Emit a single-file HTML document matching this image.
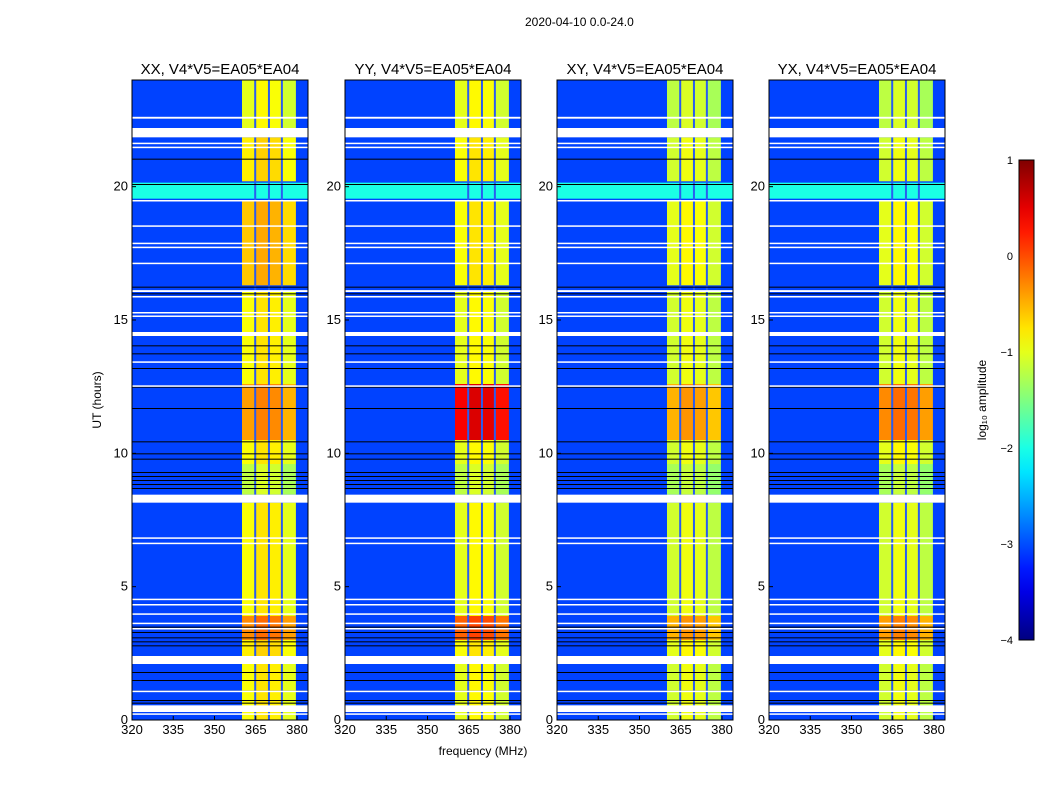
<!DOCTYPE html>
<html><head><meta charset="utf-8">
<style>
body{margin:0;background:#fff;font-family:"Liberation Sans",sans-serif;}
#wrap{position:relative;width:1050px;height:800px;overflow:hidden;}
.t{position:absolute;font-size:12px;color:#000;white-space:nowrap;}
</style></head>
<body>
<div id="wrap">
<div class="t" style="left:525px;top:15px;font-size:12px">2020-04-10 0.0-24.0</div>
<svg id="svg" width="1050" height="800" style="position:absolute;left:0;top:0"></svg>
</div>
<script>
const panelTitles=["XX, V4*V5=EA05*EA04","YY, V4*V5=EA05*EA04","XY, V4*V5=EA05*EA04","YX, V4*V5=EA05*EA04"];
const freqTicks=[320,335,350,365,380];
const timeTicks=[0,5,10,15,20];
const cbTicks=[1,0,-1,-2,-3,-4];
const cbLabels=["1","0","\u22121","\u22122","\u22123","\u22124"];
const subbandEdges=[360,364.8,369.8,374.5,379.6];
const colOffsets=[0,0.15,0.1,-0.1];
const bgLevel=-3.05;
const rfiRow=[19.55,20.15,-2.0];
const flaggedRows=[[21.85,22.2],[8.15,8.45],[2.1,2.4],[0.3,0.55],[14.4,14.55],[22.55,22.62],[21.6,21.65],[21.45,21.5],[19.45,19.5],[18.5,18.55],[17.85,17.9],[17.7,17.75],[17.1,17.15],[16.05,16.12],[15.85,15.9],[15.25,15.3],[15.12,15.17],[13.4,13.45],[12.5,12.55],[6.8,6.85],[6.6,6.65],[4.5,4.55],[4.3,4.35],[3.95,4.0],[3.6,3.65],[3.4,3.45],[1.05,1.1],[0.2,0.25]];
const blackRows=[21.05,20.1,16.25,16.0,14.05,13.75,13.2,12.5,11.7,10.45,10.0,9.8,9.3,9.15,9.0,8.85,8.7,3.5,3.3,3.1,2.95,2.8,1.8,1.5,1.1,0.75,0.65];
const segStarts=[0,2.4,3.0,3.9,8.45,9.6,10.5,12.6,14.55,16.3,20.2,22.2];
const segEnds=[2.1,3.0,3.9,8.15,9.6,10.5,12.6,14.4,16.1,19.5,21.85,24];
const bandXX=[-0.9,-0.8,-0.3,-0.9,-1.2,-0.9,-0.4,-0.9,-0.9,-0.6,-0.8,-1.0];
const bandYY=[-1.0,-0.9,-0.1,-1.0,-1.2,-1.0,0.4,-1.0,-1.0,-0.9,-0.9,-1.0];
const bandXY=[-1.1,-1.0,-0.5,-1.1,-1.3,-1.1,-0.5,-1.1,-1.1,-1.0,-1.1,-1.2];
const bandYX=[-1.1,-1.0,-0.4,-1.1,-1.3,-1.0,-0.3,-1.1,-1.1,-1.0,-1.1,-1.2];
const bands=[bandXX,bandYY,bandXY,bandYX];

const NS="http://www.w3.org/2000/svg";
const svg=document.getElementById('svg');
const panelLeft=[132,345,557,769], PW=176, PT=80, PB=720;
const fx=(f,i)=>panelLeft[i]+(f-320)*2.75;
const ty=t=>PB-(t/24)*(PB-PT);
function jet(v){const x=Math.max(0,Math.min(1,(v+4)/5));const c=a=>Math.round(255*Math.max(0,Math.min(1,1.5-Math.abs(4*x-a))));return `rgb(${c(3)},${c(2)},${c(1)})`;}
function el(tag,attrs){const e=document.createElementNS(NS,tag);for(const k in attrs)e.setAttribute(k,attrs[k]);svg.appendChild(e);return e;}
function txt(x,y,s,anchor,size){const e=el('text',{x:x,y:y,'text-anchor':anchor||'middle','font-size':size||13,'font-family':'Liberation Sans, sans-serif'});e.textContent=s;return e;}
for(let i=0;i<4;i++){
  const L=panelLeft[i];
  let r=el('rect',{x:L,y:PT,width:PW,height:PB-PT,fill:jet(bgLevel)});
  
  
  r=el('rect',{x:L,y:ty(rfiRow[1]),width:PW,height:ty(rfiRow[0])-ty(rfiRow[1]),fill:jet(rfiRow[2])});
  
  
  for(let s=0;s<segStarts.length;s++){
    for(let c=0;c<4;c++){
      const x0=fx(subbandEdges[c],i), x1=fx(subbandEdges[c+1],i);
      r=el('rect',{x:x0,y:ty(segEnds[s]),width:x1-x0,height:ty(segStarts[s])-ty(segEnds[s]),fill:jet(bands[i][s]+colOffsets[c])});
      
      
    }
  }
  for(let c=1;c<4;c++){
    r=el('rect',{x:fx(subbandEdges[c],i)-1,y:PT,width:2,height:PB-PT,fill:'#2a5cf0'});
    
    
  }
  for(const b of blackRows){
    r=el('rect',{x:L,y:ty(b),width:PW,height:1,fill:'#000'});
    
    
  }
  for(const fr of flaggedRows){
    r=el('rect',{x:L,y:ty(fr[1]),width:PW,height:Math.max(1.5,ty(fr[0])-ty(fr[1])),fill:'#fff'});
    
    
  }
  r=el('rect',{x:L,y:PT,width:PW,height:PB-PT,fill:'none',stroke:'#000','stroke-width':1});
  
  
  let t=txt(L+PW/2,74,panelTitles[i],'middle',15);
  
  
  for(const f of freqTicks){
    const x=fx(f,i);
    el('line',{x1:x,x2:x,y1:PB,y2:PB-4,stroke:'#000'});
    t=txt(x,PB+14,String(f));
    
    
  }
  for(const tt of timeTicks){
    const y=ty(tt);
    el('line',{x1:L,x2:L+4,y1:y,y2:y,stroke:'#000'});
    t=txt(L-4,y+4,String(tt),'end');
    
    
  }
}
let t=txt(483,755,'frequency (MHz)','middle',12);


t=txt(0,0,'UT (hours)','middle',12);
t.setAttribute('transform','translate(101,400) rotate(-90)');


const CBX=1019,CBW=15,CBT=160,CBB=640;
const cy=v=>CBB-(v+4)/5*(CBB-CBT);
const defs=el('defs',{});
const g=document.createElementNS(NS,'linearGradient');g.setAttribute('id','jetg');g.setAttribute('x1','0');g.setAttribute('y1','1');g.setAttribute('x2','0');g.setAttribute('y2','0');
for(let k=0;k<=20;k++){const st=document.createElementNS(NS,'stop');st.setAttribute('offset',k/20);st.setAttribute('stop-color',jet(-4+5*k/20));g.appendChild(st);}
defs.appendChild(g);
let cb=el('rect',{x:CBX,y:CBT,width:CBW,height:CBB-CBT,fill:'url(#jetg)',stroke:'#000'});


cbTicks.forEach((v,k)=>{
  const y=cy(v);
  t=txt(1013,y+4,cbLabels[k],'end',11);
  
  
});
t=txt(0,0,'log\u2081\u2080 amplitude','middle',12);
t.setAttribute('transform','translate(986,400) rotate(-90)');


</script>
</body></html>
